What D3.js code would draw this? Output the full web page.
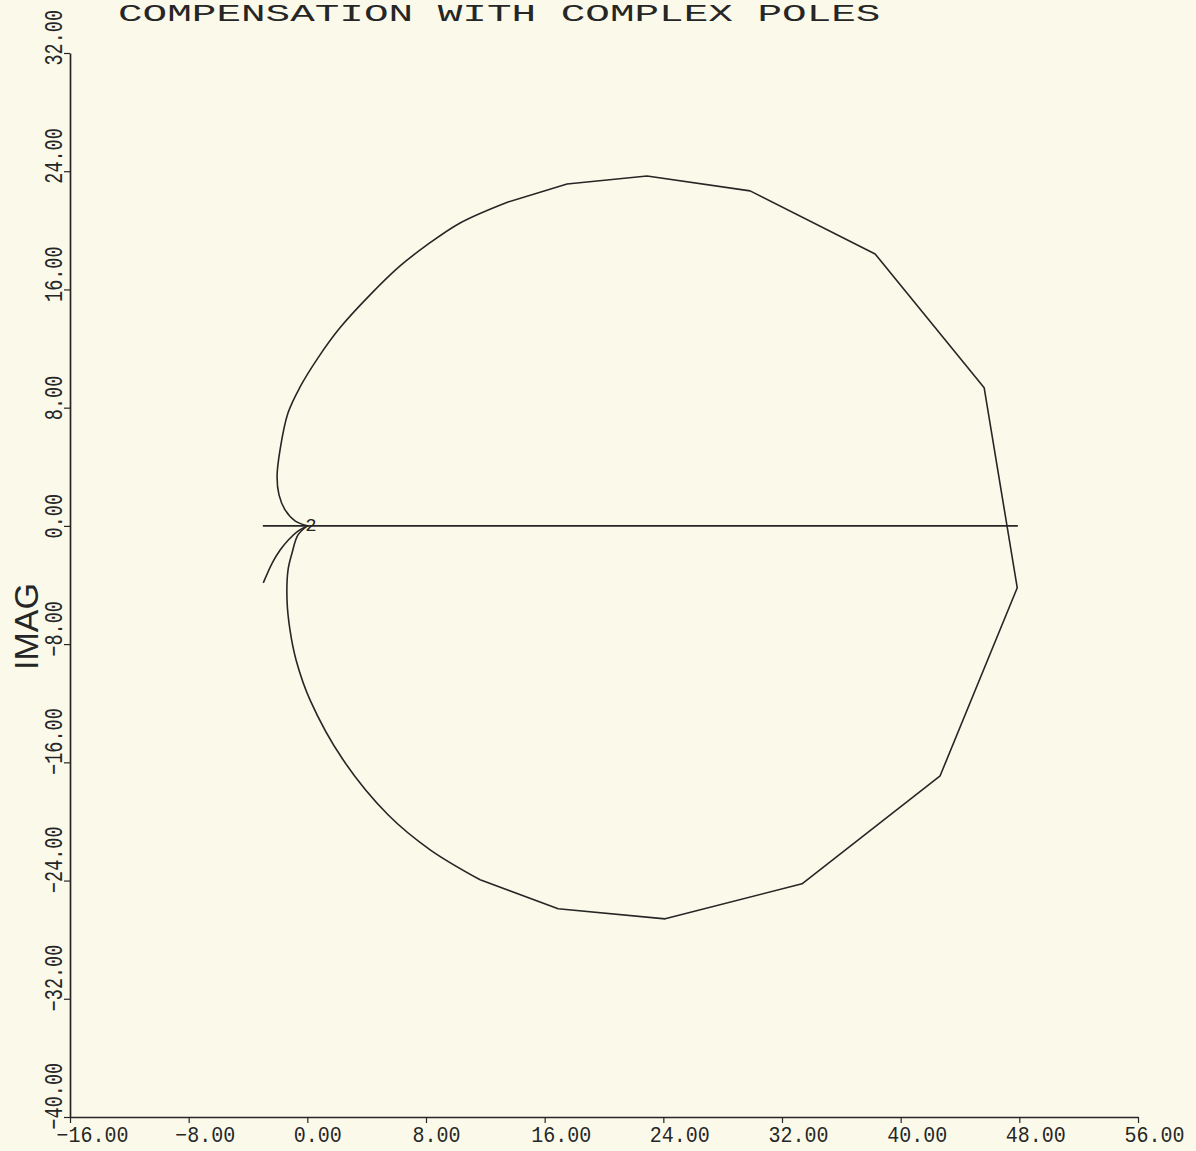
<!DOCTYPE html>
<html>
<head>
<meta charset="utf-8">
<script src="https://cdn.jsdelivr.net/npm/d3@7"></script>
<style>
  html, body { margin: 0; padding: 0; background: #fbfaea; }
  svg { display: block; }
</style>
</head>
<body>
<script>
// Root locus: compensation with complex poles (real part vs. imaginary part)
const titleText = "COMPENSATION WITH COMPLEX POLES";
const yLabelText = "IMAG";
const xTicks = [-16, -8, 0, 8, 16, 24, 32, 40, 48, 56];
const yTicks = [-40, -32, -24, -16, -8, 0, 8, 16, 24, 32];

// Upper branch leaving the double pole at the origin (smooth part)
const upperInner = [
  [0, 0], [-0.83, 0.34], [-1.50, 1.08], [-1.91, 2.10], [-2.04, 3.32],
  [-1.84, 5.14], [-1.30, 7.65], [-0.49, 9.40], [0.72, 11.37], [2.20, 13.40],
  [4.23, 15.63], [6.25, 17.59], [8.07, 19.01], [10.30, 20.50], [13.53, 21.92]
];
// Coarsely sampled outer part of the loop
const outerLoop = [
  [13.53, 21.92], [17.51, 23.14], [22.90, 23.68], [29.85, 22.67],
  [38.28, 18.40], [45.63, 9.34], [47.86, -4.19], [42.66, -16.91],
  [33.35, -24.22], [24.12, -26.59], [16.91, -25.91], [11.65, -23.95]
];
// Lower branch returning to the origin (smooth part)
const lowerInner = [
  [11.65, -23.95], [8.28, -21.92], [5.44, -19.55], [2.41, -15.83],
  [0.18, -11.77], [-0.76, -9.07], [-1.17, -7.04], [-1.37, -5.01],
  [-1.30, -2.98], [-1.03, -1.83], [-0.63, -0.61], [0, 0]
];
// Short branch heading down-left from the origin
const lowerLeft = [
  [0, 0], [-0.61, -0.34], [-1.28, -0.95], [-1.82, -1.62], [-2.36, -2.50], [-2.97, -3.86]
];
// Real-axis segment of the locus
const realAxis = [[-3.0, 0], [47.9, 0]];
// Pole multiplicity marker at the origin
const poleMarks = [{ re: 0, im: 0, label: "2" }];

const W = 1196, H = 1151;
const ink = "#262626";

const svg = d3.select("body").append("svg")
  .attr("width", W).attr("height", H);

svg.append("rect").attr("width", W).attr("height", H).attr("fill", "#fbfaea");

const x = d3.scaleLinear().domain([-16, 56]).range([70, 1138]);
const y = d3.scaleLinear().domain([-40, 32]).range([1117, 53]);

const fmt = d3.format(".2f");
const monoFont = "'Liberation Mono', 'DejaVu Sans Mono', monospace";

// X axis
const gx = svg.append("g")
  .attr("transform", `translate(0,${y(-40)})`)
  .call(d3.axisBottom(x).tickValues(xTicks).tickFormat(fmt).tickSize(6).tickSizeOuter(0));
gx.select(".domain").attr("stroke", ink).attr("stroke-width", 1.7);
gx.selectAll(".tick line").attr("stroke", ink).attr("stroke-width", 1.2);
gx.selectAll(".tick text")
  .attr("fill", ink)
  .attr("font-family", monoFont)
  .attr("font-size", 20)
  .attr("text-anchor", "start")
  .attr("x", 0)
  .attr("y", 0)
  .attr("dy", null)
  .attr("transform", "translate(-14,25) scale(1,1.08)");

// Y axis: labels run upward, glyphs slightly taller than wide
const gy = svg.append("g")
  .attr("transform", `translate(${x(-16)},0)`)
  .call(d3.axisLeft(y).tickValues(yTicks).tickFormat(fmt).tickSize(6).tickSizeOuter(0));
gy.select(".domain").attr("stroke", ink).attr("stroke-width", 1.7);
gy.selectAll(".tick line").attr("stroke", ink).attr("stroke-width", 1.2);
gy.selectAll(".tick text")
  .attr("fill", ink)
  .attr("font-family", monoFont)
  .attr("font-size", 18.5)
  .attr("text-anchor", "start")
  .attr("x", 0)
  .attr("y", 0)
  .attr("dy", null)
  .attr("transform", "translate(-8,12) rotate(-90) scale(1,1.35)");

// Title: wide, short plotter-style lettering along the top edge
svg.append("text")
  .attr("transform", "translate(118,21) scale(1,0.6)")
  .attr("fill", ink)
  .attr("font-family", monoFont)
  .attr("font-size", 41)
  .text(titleText);

// Axis name
svg.append("text")
  .attr("transform", "translate(38,670) rotate(-90)")
  .attr("fill", ink)
  .attr("font-family", "'Liberation Sans', 'DejaVu Sans', sans-serif")
  .attr("font-size", 34)
  .text(yLabelText);

// Locus curves
const smooth = d3.line().x(d => x(d[0])).y(d => y(d[1])).curve(d3.curveCatmullRom.alpha(0.5));
const straight = d3.line().x(d => x(d[0])).y(d => y(d[1])).curve(d3.curveLinear);

const plot = svg.append("g")
  .attr("fill", "none")
  .attr("stroke", ink)
  .attr("stroke-width", 1.6)
  .attr("stroke-linejoin", "round");

plot.append("path").attr("d", straight(realAxis)).attr("stroke-width", 1.9);
plot.append("path").attr("d", smooth(upperInner));
plot.append("path").attr("d", straight(outerLoop));
plot.append("path").attr("d", smooth(lowerInner));
plot.append("path").attr("d", smooth(lowerLeft));

svg.selectAll("text.pole")
  .data(poleMarks)
  .join("text")
  .attr("class", "pole")
  .attr("x", d => x(d.re) - 2)
  .attr("y", d => y(d.im) + 5)
  .attr("fill", ink)
  .attr("font-family", monoFont)
  .attr("font-size", 19)
  .text(d => d.label);
</script>
</body>
</html>
